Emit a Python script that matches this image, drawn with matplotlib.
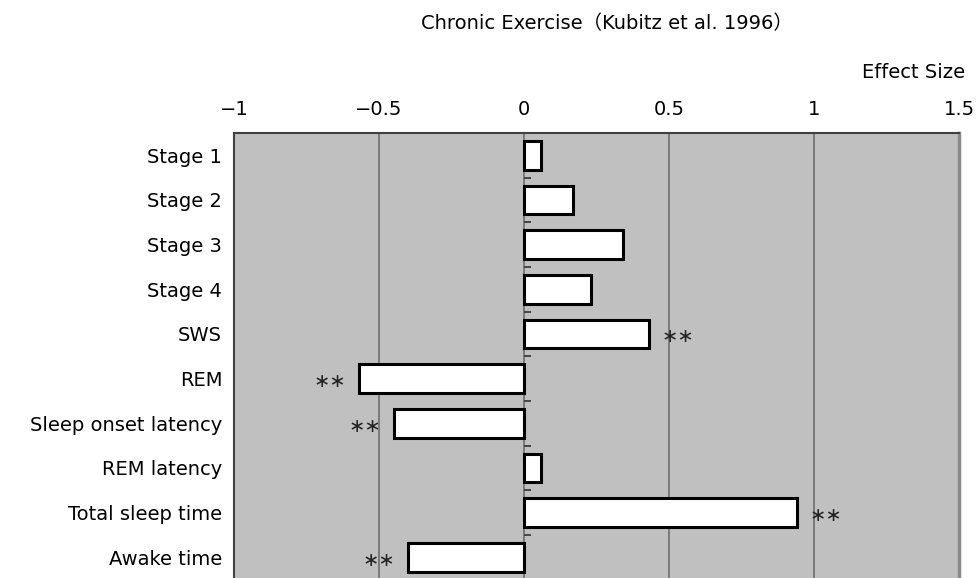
import matplotlib.pyplot as plt
import numpy as np

# data
categories = ["Stage 1", "Stage 2", "Stage 3", "Stage 4", "SWS", "REM",
              "Sleep onset latency", "REM latency", "Total sleep time", "Awake time"]
effect_sizes = [0.06, 0.17, 0.34, 0.23, 0.43, -0.57, -0.45, 0.06, 0.94, -0.40]
significant = [False, False, False, False, True, True, True, False, True, True]
x_ticks = [-1, -0.5, 0, 0.5, 1, 1.5]
x_tick_labels = ["\u22121", "\u22120.5", "0", "0.5", "1", "1.5"]
title = "Chronic Exercise\uff08Kubitz et al. 1996\uff09"
axis_label = "Effect Size"

plt.rcParams['font.family'] = ['DejaVu Sans', 'Noto Sans CJK JP']

W, H = 976, 578
fig = plt.figure(figsize=(W / 100, H / 100), dpi=100)
# plot area runs off the bottom edge, as in the reference
ax = fig.add_axes([234 / W, -3 / H, 725 / W, 448 / H])
ax.set_facecolor('#c0c0c0')

y = np.arange(len(categories))
ax.barh(y, effect_sizes, height=0.64, color='white', edgecolor='black',
        linewidth=2.2, zorder=3)

ax.set_xlim(-1, 1.5)
ax.set_ylim(9.53, -0.5)

# x axis on top
ax.set_xticks(x_ticks, x_tick_labels)
ax.xaxis.tick_top()
ax.tick_params(axis='x', length=0, pad=10, labelsize=14)
ax.grid(axis='x', color='#666666', linewidth=1.1, zorder=1)

# category labels
ax.set_yticks(y, categories)
ax.tick_params(axis='y', length=0, pad=8.5, labelsize=14)

# small tick marks on the zero line between categories
ax.hlines(np.arange(0.5, len(categories), 1), 0, 0.024, color='#444444',
          linewidth=1.4, zorder=2)

for side in ['top', 'left']:
    ax.spines[side].set_color('#404040')
    ax.spines[side].set_linewidth(1.5)
ax.spines['right'].set_color('#8a8a8a')
ax.spines['right'].set_linewidth(2.5)
ax.spines['bottom'].set_visible(False)

# significance marks
for i, (v, s) in enumerate(zip(effect_sizes, significant)):
    if not s:
        continue
    off = 9 if v > 0 else -9
    ax.annotate("\u2217\u2217", xy=(v, i), xytext=(off, -2),
                textcoords='offset points', ha='left' if v > 0 else 'right',
                va='center', fontsize=14, color='#222222', zorder=4)

fig.text(965 / W, 1 - 72 / H, axis_label, ha='right', va='center', fontsize=14)
fig.text(607 / W, 1 - 24 / H, title, ha='center', va='center', fontsize=14)

fig.savefig('out.png', dpi=100)
